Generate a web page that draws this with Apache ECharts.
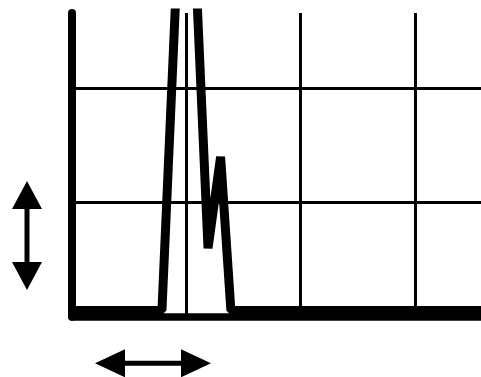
<!DOCTYPE html>
<html>
<head>
<meta charset="utf-8">
<script src="https://cdn.jsdelivr.net/npm/echarts@6/dist/echarts.min.js"></script>
<style>
  html, body { margin: 0; padding: 0; background: #fff; }
  #chart { width: 481px; height: 377px; }
</style>
</head>
<body>
<div id="chart"></div>
<script>
// ---- data ----
var xValues = [0, 0.787, 1.0, 1.19, 1.30, 1.39, 3.7];
var yValues = [0.055, 0.055, 4.9, 0.6, 1.4, 0.055, 0.055];
var xRange = [0, 3.578];
var yRange = [0, 2.66];
var tickStep = 1;

var seriesData = xValues.map(function (x, i) { return [x, yValues[i]]; });

var chart = echarts.init(document.getElementById('chart'), null, { renderer: 'canvas' });

function arrowV(cx, top, bottom, headW, headH, shaftW) {
  return [
    [cx, top], [cx + headW / 2, top + headH], [cx + shaftW / 2, top + headH],
    [cx + shaftW / 2, bottom - headH], [cx + headW / 2, bottom - headH], [cx, bottom],
    [cx - headW / 2, bottom - headH], [cx - shaftW / 2, bottom - headH],
    [cx - shaftW / 2, top + headH], [cx - headW / 2, top + headH]
  ];
}
function arrowH(cy, left, right, headH, headW, shaftH) {
  return [
    [left, cy], [left + headW, cy - headH / 2], [left + headW, cy - shaftH / 2],
    [right - headW, cy - shaftH / 2], [right - headW, cy - headH / 2], [right, cy],
    [right - headW, cy + headH / 2], [right - headW, cy + shaftH / 2],
    [left + headW, cy + shaftH / 2], [left + headW, cy + headH / 2]
  ];
}

chart.setOption({
  animation: false,
  backgroundColor: '#ffffff',
  grid: { left: 72, right: 0, top: 13, bottom: 60.3, containLabel: false },
  xAxis: {
    type: 'value', min: xRange[0], max: xRange[1], interval: tickStep,
    axisLine: { show: true, onZero: false, lineStyle: { color: '#000', width: 7.5, cap: 'round' } },
    axisTick: { show: false }, axisLabel: { show: false },
    splitLine: { show: true, showMinLine: false, showMaxLine: false, lineStyle: { color: '#000', width: 3 } }
  },
  yAxis: {
    type: 'value', min: yRange[0], max: yRange[1], interval: tickStep,
    axisLine: { show: true, onZero: false, lineStyle: { color: '#000', width: 8 } },
    axisTick: { show: false }, axisLabel: { show: false },
    splitLine: { show: true, showMinLine: false, showMaxLine: false, lineStyle: { color: '#000', width: 3 } }
  },
  series: [{
    type: 'line',
    data: seriesData,
    symbol: 'none',
    clip: true,
    lineStyle: { color: '#000', width: 9, join: 'bevel' },
    z: 3
  }],
  graphic: [
    { type: 'polygon', shape: { points: arrowV(27, 181, 290, 30, 28, 5) }, style: { fill: '#000' } },
    { type: 'polygon', shape: { points: arrowH(363.3, 95, 211, 28, 30, 5) }, style: { fill: '#000' } }
  ]
});
</script>
</body>
</html>
